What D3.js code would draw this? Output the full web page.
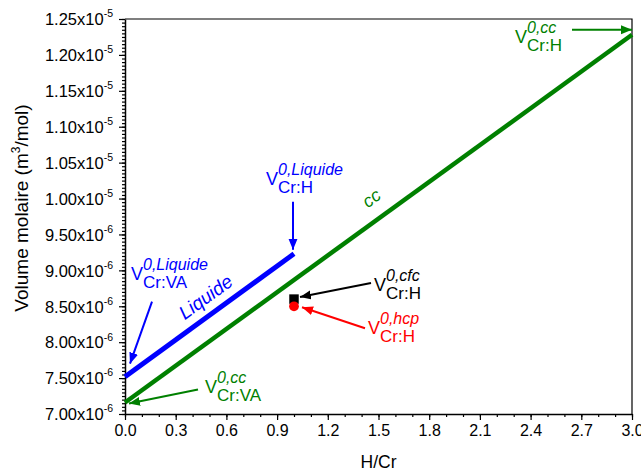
<!DOCTYPE html>
<html><head><meta charset="utf-8">
<script src="https://cdn.jsdelivr.net/npm/d3@7"></script>
<style>
body{margin:0;background:#fff;}
text{font-family:"Liberation Sans",Arial,sans-serif;}
</style></head>
<body><svg id="c" width="641" height="473"></svg>
<script>
// ---- data ----
const xTicks = [0.0, 0.3, 0.6, 0.9, 1.2, 1.5, 1.8, 2.1, 2.4, 2.7, 3.0];
const yTicks = [7.00e-6, 7.50e-6, 8.00e-6, 8.50e-6, 9.00e-6, 9.50e-6, 1.00e-5, 1.05e-5, 1.10e-5, 1.15e-5, 1.20e-5, 1.25e-5];
const ccX = [0.0, 3.0];
const ccV = [7.16e-6, 1.228e-5];
const liqX = [0.0, 1.0];
const liqV = [7.52e-6, 9.23e-6];
const cfcPoint = [1.0, 8.60e-6];
const hcpPoint = [1.0, 8.50e-6];
const xTitle = "H/Cr";
const yTitle = ["Volume molaire (m", "3", "/mol)"];

// ---- layout ----
const svg = d3.select("#c");
svg.append("rect").attr("width",641).attr("height",473).attr("fill","#fff");
const L=125,R=632,T=19,B=414;
const x = d3.scaleLinear().domain([0,3]).range([L,R]);
const y = d3.scaleLinear().domain([7e-6,1.25e-5]).range([B,T]);

// minor ticks
const xMinor = d3.range(0,31).map(i=>i/10);
const yMinor = d3.range(0,111).map(i=>7e-6+i*0.05e-6);
svg.append("g").attr("transform",`translate(0,${B})`)
  .call(d3.axisBottom(x).tickValues(xMinor).tickSize(3).tickFormat(""))
  .call(g=>g.select(".domain").remove());
svg.append("g").attr("transform",`translate(${L},0)`)
  .call(d3.axisLeft(y).tickValues(yMinor).tickSize(3).tickFormat(""))
  .call(g=>g.select(".domain").remove());

const gx = svg.append("g").attr("transform",`translate(0,${B})`)
  .call(d3.axisBottom(x).tickValues(xTicks).tickSize(6).tickSizeOuter(0).tickPadding(5).tickFormat(d=>d.toFixed(1)));
gx.selectAll("text").attr("font-size",16).attr("fill","#000").attr("font-family","Liberation Sans, Arial, sans-serif");

const gy = svg.append("g").attr("transform",`translate(${L},0)`)
  .call(d3.axisLeft(y).tickValues(yTicks).tickSize(6).tickSizeOuter(0).tickPadding(5).tickFormat(""));
gy.selectAll(".tick").each(function(d){
  const e = Math.floor(Math.log10(d)+1e-9);
  const m = (d/Math.pow(10,e)).toFixed(2);
  const t = d3.select(this).select("text").attr("font-size",16.5).attr("fill","#000")
     .attr("font-family","Liberation Sans, Arial, sans-serif").attr("dy","0.35em").attr("x",-12);
  t.text(null);
  t.append("tspan").text(m+"x10");
  t.append("tspan").attr("font-size",10.5).attr("dy","-0.75em").text(String(e));
});
svg.selectAll(".domain").attr("stroke","#000").attr("stroke-width",1.5);
svg.selectAll(".tick line").attr("stroke","#000").attr("stroke-width",1.2);

// frame top/right
svg.append("path").attr("d",`M${L},${T}H${R}V${B}`).attr("fill","none").attr("stroke","#000").attr("stroke-width",1.2);

// titles
svg.append("text").attr("x",(L+R)/2).attr("y",468).attr("text-anchor","middle").attr("font-size",17.5).text(xTitle);
const yt = svg.append("text").attr("transform","translate(28,208) rotate(-90)").attr("text-anchor","middle").attr("font-size",19);
yt.append("tspan").text(yTitle[0]);
yt.append("tspan").attr("font-size",12).attr("dy","-0.7em").text(yTitle[1]);
yt.append("tspan").attr("dy","0.45em").text(yTitle[2]);

// lines
const line = d3.line().x(d=>x(d[0])).y(d=>y(d[1]));
svg.append("path").datum(d3.zip(ccX,ccV)).attr("d",line).attr("fill","none").attr("stroke","#008000").attr("stroke-width",4.5);
svg.append("path").datum(d3.zip(liqX,liqV)).attr("d",line).attr("fill","none").attr("stroke","#0000ff").attr("stroke-width",5);

// points
svg.append("path").attr("d",d3.symbol(d3.symbolSquare,90)()).attr("transform",`translate(${x(cfcPoint[0])},${y(cfcPoint[1])})`).attr("fill","#000");
svg.append("path").attr("d",d3.symbol(d3.symbolCircle,75)()).attr("transform",`translate(${x(hcpPoint[0])},${y(hcpPoint[1])})`).attr("fill","#ff0000");

// arrow markers
const defs = svg.append("defs");
["#000000","#ff0000","#0000ff","#008000"].forEach((c,i)=>{
  defs.append("marker").attr("id","ar"+i).attr("markerUnits","userSpaceOnUse")
    .attr("markerWidth",12).attr("markerHeight",10).attr("refX",11).attr("refY",4.5).attr("orient","auto")
    .append("path").attr("d","M0,0L11,4.5L0,9z").attr("fill",c);
});
function arrow(x1,y1,x2,y2,i,c){
  svg.append("line").attr("x1",x1).attr("y1",y1).attr("x2",x2).attr("y2",y2)
    .attr("stroke",c).attr("stroke-width",2).attr("marker-end",`url(#ar${i})`);
}
function label(px,py,sup,sub,c){
  const g = svg.append("g").attr("fill",c);
  const v = g.append("text").attr("x",px).attr("y",py).attr("font-size",18).text("V");
  const w = v.node().getComputedTextLength();
  g.append("text").attr("x",px+w).attr("y",py-10).attr("font-size",16).attr("font-style","italic").text(sup);
  g.append("text").attr("x",px+w).attr("y",py+8).attr("font-size",17).text(sub);
}

// annotations anchored on data
const cfcP=[x(cfcPoint[0]),y(cfcPoint[1])], hcpP=[x(hcpPoint[0]),y(hcpPoint[1])];
arrow(cfcP[0]+77,cfcP[1]-16,cfcP[0]+6,cfcP[1]-2,0,"#000");
label(cfcP[0]+80,cfcP[1]-8,"0,cfc","Cr:H","#000");
arrow(hcpP[0]+71,hcpP[1]+22,hcpP[0]+8,hcpP[1]+1,1,"#ff0000");
label(hcpP[0]+74,hcpP[1]+28,"0,hcp","Cr:H","#ff0000");

const liqEnd=[x(liqX[1]),y(liqV[1])], liqStart=[x(liqX[0]),y(liqV[0])];
arrow(liqEnd[0]-1,liqEnd[1]-52,liqEnd[0]-1,liqEnd[1]-4,2,"#0000ff");
label(liqEnd[0]-28,liqEnd[1]-69,"0,Liquide","Cr:H","#0000ff");
arrow(liqStart[0]+27,liqStart[1]-75,liqStart[0]+5,liqStart[1]-13,2,"#0000ff");
label(liqStart[0]+6,liqStart[1]-97,"0,Liquide","Cr:VA","#0000ff");

const ccStart=[x(ccX[0]),y(ccV[0])], ccEnd=[x(ccX[1]),y(ccV[1])];
arrow(ccStart[0]+73,ccStart[1]-13,ccStart[0]+4,ccStart[1]+1,3,"#008000");
label(ccStart[0]+80,ccStart[1]-10,"0,cc","Cr:VA","#008000");
arrow(ccEnd[0]-60,ccEnd[1]-5,ccEnd[0],ccEnd[1]-5,3,"#008000");
label(ccEnd[0]-117,ccEnd[1]+8,"0,cc","Cr:H","#008000");

// rotated series labels
const liqAt = d3.scaleLinear().domain(liqX).range(liqV);
const ccAt = d3.scaleLinear().domain(ccX).range(ccV);
const ang = Math.atan2(y(liqV[1])-y(liqV[0]), x(liqX[1])-x(liqX[0]))*180/Math.PI;
svg.append("text").attr("transform",`translate(${x(0.5)},${y(liqAt(0.5))-13}) rotate(${ang})`)
  .attr("text-anchor","middle").attr("font-size",19).attr("font-style","italic").attr("fill","#0000ff").text("Liquide");
const ang2 = Math.atan2(y(ccV[1])-y(ccV[0]), x(ccX[1])-x(ccX[0]))*180/Math.PI;
svg.append("text").attr("transform",`translate(${x(1.48)},${y(ccAt(1.48))-18}) rotate(${ang2})`)
  .attr("text-anchor","middle").attr("font-size",18).attr("font-style","italic").attr("fill","#008000").text("cc");
</script></body></html>
